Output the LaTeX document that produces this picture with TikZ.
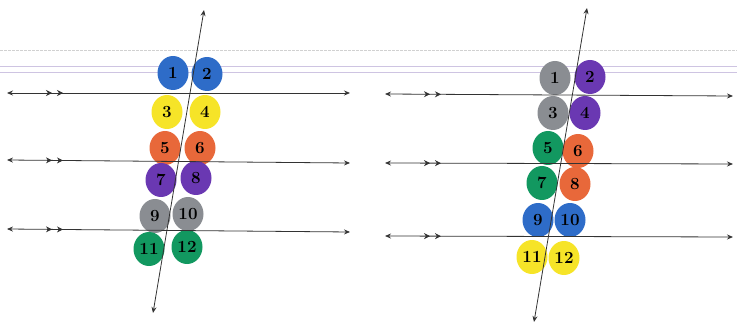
\documentclass[tikz,border=0pt]{standalone}
\usetikzlibrary{arrows.meta,shapes.geometric,decorations.markings}
\definecolor{blobblue}{RGB}{46,108,200}
\definecolor{blobyellow}{RGB}{246,228,40}
\definecolor{bloborange}{RGB}{232,104,58}
\definecolor{blobpurple}{RGB}{106,56,178}
\definecolor{blobgray}{RGB}{138,141,146}
\definecolor{blobgreen}{RGB}{18,152,96}
\definecolor{ruling}{RGB}{206,196,226}

\begin{document}
\begin{tikzpicture}[x=1pt,y=-1pt,
  blob/.style={ellipse, inner sep=0pt, minimum width=31pt, minimum height=34pt,
    font=\fontsize{17}{17}\selectfont\bfseries},
  line/.style={draw=black!80, line width=0.8pt,
    {Stealth[length=6pt,width=5pt]}-{Stealth[length=6pt,width=5pt]}},
  parallel/.style={postaction={decorate}, decoration={markings,
    mark=at position 45pt with {\arrow{Stealth[length=6pt,width=6pt]}},
    mark=at position 56pt with {\arrow{Stealth[length=6pt,width=6pt]}}}}]
  \useasboundingbox (0,0) rectangle (737,326);
  % paper ruling
  \draw[black!18, dash pattern=on 3pt off 1pt] (0,50) -- (737,50);
  \draw[ruling, line width=0.8pt] (0,66) -- (737,66) (0,72) -- (737,72);

  % left panel
  \foreach \n/\x/\y/\c in {1/173/73/blobblue, 2/207/74/blobblue,
      3/167/112/blobyellow, 4/205/112/blobyellow,
      5/165/148/bloborange, 6/200/148/bloborange,
      7/161/180/blobpurple, 8/196/178/blobpurple,
      9/155/216/blobgray, 10/188/214/blobgray,
      11/149/249/blobgreen, 12/187/247/blobgreen}
    \node[blob, fill=\c] (A\n) at (\x,\y) {\n};
  \coordinate (tA) at (204,10);
  \coordinate (bA) at (153,313);
  \foreach \i/\yw/\ye in {1/93/93, 2/160/163, 3/229/232} {
    \coordinate (wA\i) at (7,\yw);
    \coordinate (eA\i) at (350,\ye);
    \draw[line, parallel] (wA\i) -- (eA\i);
  }
  \draw[line] (bA) -- (tA);

  % right panel
  \foreach \n/\x/\y/\c in {1/555/78/blobgray, 2/590/77/blobpurple,
      3/553/113/blobgray, 4/585/113/blobpurple,
      5/548/148/blobgreen, 6/578/151/bloborange,
      7/542/183/blobgreen, 8/575/184/bloborange,
      9/538/220/blobblue, 10/570/220/blobblue,
      11/532/257/blobyellow, 12/564/258/blobyellow}
    \node[blob, fill=\c] (B\n) at (\x,\y) {\n};
  \coordinate (tB) at (587,8);
  \coordinate (bB) at (534,322);
  \foreach \i/\yw/\ye in {1/94/96, 2/163/164, 3/236/237} {
    \coordinate (wB\i) at (385,\yw);
    \coordinate (eB\i) at (733,\ye);
    \draw[line, parallel] (wB\i) -- (eB\i);
  }
  \draw[line] (bB) -- (tB);
\end{tikzpicture}
\end{document}
